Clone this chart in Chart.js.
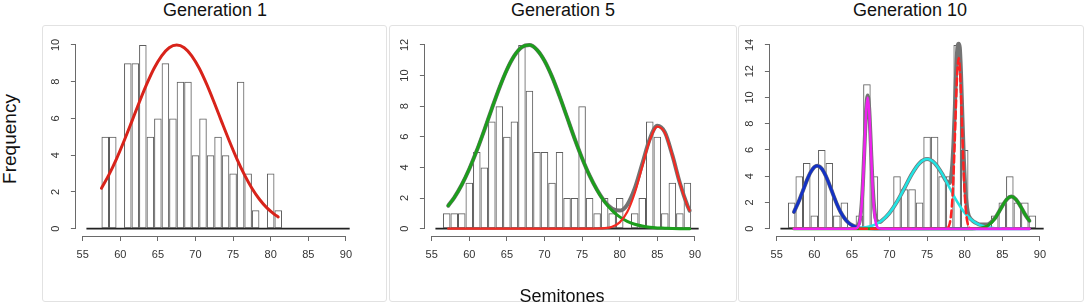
<!DOCTYPE html>
<html><head><meta charset="utf-8">
<script src="https://cdn.jsdelivr.net/npm/chart.js@4.4.1/dist/chart.umd.min.js"></script>
<style>
html,body{margin:0;padding:0;background:#fff;width:1084px;height:306px;overflow:hidden;font-family:"Liberation Sans",Arial,Helvetica,sans-serif;color:#111;}
.panel{position:absolute;top:25px;height:277px;border:1px solid #e2e2e2;border-radius:3px;box-sizing:border-box;background:#fff;}
.title{position:absolute;top:0;height:20px;line-height:20px;font-size:18px;text-align:center;white-space:nowrap;transform:translateX(-50%);}
canvas{position:absolute;top:0;}
#freq{position:absolute;left:10px;top:139px;transform:translate(-50%,-50%) rotate(-90deg);font-size:19px;white-space:nowrap;}
#semi{position:absolute;left:562px;top:296px;transform:translate(-50%,-50%);font-size:18px;white-space:nowrap;}
</style></head>
<body>
<div class="panel" style="left:42px;width:345px;"></div>
<div class="panel" style="left:389px;width:348px;"></div>
<div class="panel" style="left:738px;width:346px;"></div>
<div class="title" style="left:215px;">Generation 1</div>
<div class="title" style="left:563px;">Generation 5</div>
<div class="title" style="left:910px;">Generation 10</div>
<canvas id="c1" width="340" height="306" style="left:36px"></canvas>
<canvas id="c2" width="340" height="306" style="left:385px"></canvas>
<canvas id="c3" width="340" height="306" style="left:730px"></canvas>
<div id="freq">Frequency</div>
<div id="semi">Semitones</div>
<script>
// ---- data ----
const semitoneBins = [56,57,58,59,60,61,62,63,64,65,66,67,68,69,70,71,72,73,74,75,76,77,78,79,80,81,82,83,84,85,86,87,88,89,90];
const gen1Counts  = [0,0,5,5,0,9,9,10,5,6,9,6,8,8,4,6,4,5,4,3,8,3,1,0,3,1,0,0,0,0,0,0,0,0,0];
const gen5Counts  = [0,1,1,1,3,5,4,7,8,6,7,12,9,5,5,3,5,2,2,8,2,1,2,1,2,0,1,2,7,6,1,3,1,3,0];
const gen10Counts = [0,2,4,5,1,6,5,1,2,0,1,11,4,0,0,4,3,3,2,7,7,4,4,14,6,0,0,0,1,2,4,2,2,1,0];
const xTickLabels = [55,60,65,70,75,80,85,90];
const gen1YTicks = [0,2,4,6,8,10];
const gen5YTicks = [0,2,4,6,8,10,12];
const gen10YTicks = [0,2,4,6,8,10,12,14];

// Generation 1 fitted curve
const gen1FitX = [57.5,58.5,59.5,60.5,61.5,62.5,63.5,64.5,65.5,66.5,67.5,68.5,69.5,70.5,71.5,72.5,73.5,74.5,75.5,76.5,77.5,78.5,79.5,80.5,81];
const gen1FitY = [2.20,2.94,3.80,4.77,5.80,6.85,7.85,8.73,9.41,9.85,10,9.85,9.41,8.73,7.85,6.85,5.80,4.77,3.80,2.94,2.20,1.60,1.13,0.78,0.64];

// Generation 5 fitted curves
const gen5FitX   = [57.2,58,59,60,61,62,63,64,65,66,67,68,69,70,71,72,73,74,75,76,77,78,79,80,81,82,83,84,85,86,87,88,89,89.3];
const gen5GreenY = [1.50,2.03,2.87,3.90,5.10,6.44,7.84,9.19,10.38,11.30,11.86,11.99,11.68,10.97,9.93,8.66,7.28,5.89,4.60,3.46,2.51,1.75,1.18,0.77,0.48,0.29,0.17,0.09,0.05,0.03,0.01,0,0,0];
const gen5RedY   = [0,0,0,0,0,0,0,0,0,0,0,0,0,0,0,0,0,0,0,0,0.01,0.03,0.13,0.41,1.08,2.33,4.06,5.77,6.67,6.27,4.79,2.98,1.51,1.18];
const gen5MixY   = [1.50,2.03,2.87,3.90,5.10,6.44,7.84,9.19,10.38,11.30,11.86,11.99,11.68,10.97,9.93,8.66,7.28,5.89,4.60,3.46,2.52,1.78,1.31,1.18,1.56,2.62,4.23,5.86,6.72,6.30,4.80,2.98,1.51,1.18];

// Generation 10 fitted curves
const gen10BlueX = [57.3,58,58.5,59,59.5,60,60.4,61,61.5,62,62.5,63,63.5,64,64.5,65,65.5,66,67,68,88.6];
const gen10BlueY = [1.27,2.16,2.91,3.66,4.29,4.69,4.80,4.57,4.06,3.37,2.61,1.88,1.27,0.80,0.47,0.26,0.13,0.06,0.01,0,0];
const gen10MagentaX = [57.3,65,65.5,66,66.3,66.5,66.7,66.9,67.1,67.3,67.5,67.7,67.9,68.2,68.7,69.5,88.6];
const gen10MagentaY = [0,0,0.01,0.38,1.77,3.78,6.49,8.97,10,8.97,6.49,3.78,1.77,0.38,0.01,0,0];
const gen10CyanX = [57.3,65,66,67,68,69,70,71,72,73,74,75,76,77,78,79,80,81,82,83,84,85,88.6];
const gen10CyanY = [0,0.02,0.04,0.12,0.29,0.62,1.20,2.05,3.10,4.18,4.99,5.30,4.99,4.18,3.10,2.05,1.20,0.62,0.29,0.12,0.04,0.01,0];
const gen10RedX = [57.3,77,77.5,78,78.3,78.5,78.7,78.9,79.05,79.2,79.35,79.5,79.7,79.9,80.1,80.4,80.9,81.5,88.6];
const gen10RedY = [0,0,0.01,0.37,1.76,3.88,7.01,10.41,12.30,13,12.30,10.41,7.01,3.88,1.76,0.37,0.01,0,0];
const gen10GreenX = [57.3,81,82,83,84,85,85.6,86.2,86.8,87.4,88,88.6];
const gen10GreenY = [0,0,0.03,0.20,0.75,1.72,2.24,2.45,2.24,1.72,1.11,0.60];
const gen10MixX = [57.3,58,58.5,59,59.5,60,60.4,61,61.5,62,62.5,63,63.5,64,64.5,65,65.5,66,66.3,66.5,66.7,66.9,67.1,67.3,67.5,67.7,67.9,68.2,68.7,69,70,71,72,73,74,75,76,77,77.5,78,78.3,78.5,78.7,78.9,79.05,79.2,79.35,79.5,79.7,79.9,80.1,80.4,80.9,81.5,82,83,84,85,85.6,86.2,86.8,87.4,88,88.6];
const gen10MixY = [1.27,2.16,2.91,3.66,4.29,4.69,4.80,4.57,4.06,3.37,2.61,1.88,1.27,0.81,0.48,0.28,0.17,0.48,1.87,3.88,6.60,9.10,10.14,9.14,6.68,4.00,2.03,0.72,0.51,0.62,1.20,2.05,3.10,4.18,4.99,5.30,4.99,4.18,3.66,3.47,4.53,6.44,9.36,12.55,13.9,14.1,13.8,12.00,8.43,5.15,2.89,1.30,0.68,0.44,0.32,0.32,0.79,1.73,2.24,2.45,2.24,1.72,1.11,0.60];

// ---- helpers ----
const FONT = '"Liberation Sans", Arial, Helvetica, sans-serif';
function pts(xs, ys) { return xs.map((x, i) => ({x: x, y: ys[i]})); }

const rAxes = {
  id: 'rAxes',
  beforeDatasetsDraw(chart) {
    const {ctx, chartArea, scales} = chart;
    const x = scales.x, y = scales.y;
    ctx.save();
    // histogram baseline across all bins
    const lo = semitoneBins[0] - 0.5, hi = semitoneBins[semitoneBins.length - 1] + 0.5;
    const y0 = y.getPixelForValue(0);
    ctx.strokeStyle = '#222'; ctx.lineWidth = 1.6;
    ctx.beginPath(); ctx.moveTo(x.getPixelForValue(lo), y0); ctx.lineTo(x.getPixelForValue(hi), y0); ctx.stroke();
    // R-style axis lines spanning first..last tick
    ctx.strokeStyle = '#6a6a6a'; ctx.lineWidth = 1;
    const xt = x.ticks, yt = y.ticks;
    const by = Math.round(chartArea.bottom) + 0.5;
    ctx.beginPath();
    ctx.moveTo(x.getPixelForValue(xt[0].value), by);
    ctx.lineTo(x.getPixelForValue(xt[xt.length - 1].value), by);
    ctx.stroke();
    const lx = Math.round(chartArea.left) - 0.5;
    ctx.beginPath();
    ctx.moveTo(lx, y.getPixelForValue(yt[0].value));
    ctx.lineTo(lx, y.getPixelForValue(yt[yt.length - 1].value));
    ctx.stroke();
    ctx.restore();
  }
};

function lineDs(xs, ys, color, width, order, dash) {
  return {
    type: 'line', data: pts(xs, ys), borderColor: color, borderWidth: width,
    pointRadius: 0, fill: false, cubicInterpolationMode: 'monotone',
    borderDash: dash || [], order: order, borderCapStyle: 'round', borderJoinStyle: 'round'
  };
}

function makeChart(id, counts, yTicks, lines) {
  const ymax = yTicks[yTicks.length - 1];
  const barDs = {
    type: 'bar', data: pts(semitoneBins, counts),
    backgroundColor: 'rgba(0,0,0,0)', borderColor: '#5e5e5e', borderWidth: 1,
    borderSkipped: false, barPercentage: 1, categoryPercentage: 1, inflateAmount: 0, order: 20
  };
  return new Chart(document.getElementById(id), {
    type: 'bar',
    data: { datasets: [barDs].concat(lines) },
    options: {
      responsive: false, animation: false, devicePixelRatio: 1,
      events: [],
      layout: { padding: { left: 3.9, right: 15.8, top: 37.6, bottom: 30 } },
      plugins: { legend: { display: false }, tooltip: { enabled: false } },
      scales: {
        x: {
          type: 'linear', min: 54.1, max: 91.9, offset: false,
          afterBuildTicks: s => { s.ticks = xTickLabels.map(v => ({ value: v })); },
          afterFit: s => { s.height = 40; },
          grid: { display: true, offset: false, drawOnChartArea: false, drawTicks: true, tickLength: 5, color: '#6a6a6a', lineWidth: 1 },
          border: { display: false },
          ticks: { color: '#333', font: { family: FONT, size: 11 }, padding: 7, maxRotation: 0, minRotation: 0, autoSkip: false }
        },
        y: {
          type: 'linear', min: -0.04 * ymax, max: 1.04 * ymax,
          afterBuildTicks: s => { s.ticks = yTicks.map(v => ({ value: v })); },
          afterFit: s => { s.width = 36; },
          grid: { display: true, drawOnChartArea: false, drawTicks: true, tickLength: 5, color: '#6a6a6a', lineWidth: 1 },
          border: { display: false },
          ticks: { color: '#333', font: { family: FONT, size: 11 }, padding: 9, minRotation: 90, maxRotation: 90, crossAlign: 'center', autoSkip: false }
        }
      }
    },
    plugins: [rAxes]
  });
}

makeChart('c1', gen1Counts, gen1YTicks, [
  lineDs(gen1FitX, gen1FitY, '#d8231a', 3, 1)
]);

makeChart('c2', gen5Counts, gen5YTicks, [
  lineDs(gen5FitX, gen5MixY, '#727272', 4, 9),
  lineDs(gen5FitX, gen5GreenY, '#1c9e1c', 3, 5),
  lineDs(gen5FitX, gen5RedY, '#f22a22', 2.2, 4)
]);

makeChart('c3', gen10Counts, gen10YTicks, [
  lineDs(gen10MixX, gen10MixY, '#747474', 4, 9),
  lineDs(gen10BlueX, gen10BlueY, '#1432c4', 3, 6),
  lineDs(gen10CyanX, gen10CyanY, '#22e4e4', 2.5, 5),
  lineDs(gen10GreenX, gen10GreenY, '#1c9e1c', 3, 4),
  lineDs(gen10RedX, gen10RedY, '#ff2222', 2.5, 3, [7, 4]),
  lineDs(gen10MagentaX, gen10MagentaY, '#ee22ee', 2.5, 2)
]);
</script>
</body></html>
